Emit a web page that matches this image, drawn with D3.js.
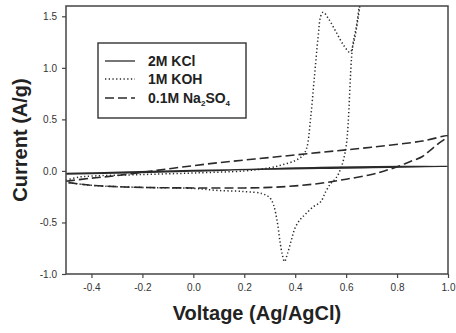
<!DOCTYPE html>
<html><head><meta charset="utf-8">
<script src="https://cdn.jsdelivr.net/npm/d3@7"></script>
<style>
html,body{margin:0;padding:0;background:#fff;}
svg{display:block;font-family:"Liberation Sans",Arial,sans-serif;}
</style></head>
<body><svg id="chart" width="456" height="333"></svg>
<script>
// ---- data ----
const xTicks = [-0.4, -0.2, 0.0, 0.2, 0.4, 0.6, 0.8, 1.0];
const xTickLabels = ["-0.4", "-0.2", "0.0", "0.2", "0.4", "0.6", "0.8", "1.0"];
const yTicks = [-1.0, -0.5, 0.0, 0.5, 1.0, 1.5];
const yTickLabels = ["-1.0", "-0.5", "0.0", "0.5", "1.0", "1.5"];

// 2M KCl (forward then reverse)
const kclV = [-0.5, -0.25, 0.0, 0.5, 1.0, 0.5, 0.0, -0.25, -0.5];
const kclI = [-0.025, -0.01, 0.005, 0.025, 0.045, 0.035, -0.002, -0.018, -0.032];

// 1M KOH
const kohV = [-0.5, -0.45, -0.4, -0.2, 0.0, 0.2, 0.3, 0.35, 0.4, 0.43, 0.445, 0.46, 0.475, 0.49, 0.5, 0.51, 0.53, 0.56, 0.59, 0.615, 0.63, 0.645, 0.66, 0.67,
              0.665, 0.653, 0.64, 0.625, 0.6, 0.58, 0.56, 0.54, 0.52, 0.5, 0.47, 0.44, 0.42, 0.4, 0.385, 0.37, 0.358, 0.35, 0.34, 0.33, 0.315, 0.3, 0.27, 0.2, 0.1, 0.0, -0.2, -0.4, -0.5];
const kohI = [-0.09, -0.06, -0.05, -0.035, -0.02, 0.0, 0.03, 0.06, 0.1, 0.15, 0.22, 0.5, 0.9, 1.3, 1.5, 1.54, 1.48, 1.35, 1.22, 1.15, 1.25, 1.45, 1.7, 1.8,
              1.8, 1.62, 1.4, 1.2, 0.24, 0.03, -0.07, -0.12, -0.2, -0.3, -0.35, -0.42, -0.47, -0.55, -0.67, -0.8, -0.88, -0.82, -0.68, -0.5, -0.33, -0.26, -0.22, -0.2, -0.19, -0.17, -0.16, -0.14, -0.11];

// 0.1M Na2SO4
const naV = [-0.5, -0.4, -0.3, -0.1, 0.1, 0.3, 0.5, 0.7, 0.9, 1.0, 0.96, 0.93, 0.9, 0.85, 0.8, 0.75, 0.7, 0.6, 0.5, 0.4, 0.3, 0.2, 0.0, -0.2, -0.4, -0.5];
const naI = [-0.1, -0.07, -0.045, 0.02, 0.08, 0.13, 0.18, 0.23, 0.29, 0.34, 0.26, 0.2, 0.14, 0.09, 0.04, 0.0, -0.035, -0.08, -0.12, -0.145, -0.16, -0.165, -0.165, -0.16, -0.14, -0.11];

const seriesNames = ["2M KCl", "1M KOH", "0.1M Na2SO4"];

// ---- layout ----
const svg = d3.select("#chart");
const L = 66, R = 448, T = 6, B = 274;
const x = d3.scaleLinear().domain([-0.5, 1.0]).range([L, R]);
const y = d3.scaleLinear().domain([-1.0, 1.6]).range([B, T]);
const ink = "#2a2a2a";

svg.append("defs").append("clipPath").attr("id", "clip")
  .append("rect").attr("x", L).attr("y", T).attr("width", R - L).attr("height", B - T);

const zip = (vs, is) => vs.map((v, i) => [v, is[i]]);
const line = d3.line().x(d => x(d[0])).y(d => y(d[1])).curve(d3.curveCatmullRom.alpha(0.5));

const plot = svg.append("g").attr("clip-path", "url(#clip)");
const styles = [
  {data: zip(kclV, kclI), dash: null, w: 1.3},
  {data: zip(kohV, kohI), dash: "1.3,2.4", w: 1.5},
  {data: zip(naV, naI), dash: "9,4", w: 1.6}
];
styles.forEach(s => {
  plot.append("path").attr("d", line(s.data)).attr("fill", "none")
    .attr("stroke", ink).attr("stroke-width", s.w)
    .attr("stroke-dasharray", s.dash);
});

// frame
svg.append("rect").attr("x", L).attr("y", T).attr("width", R - L).attr("height", B - T)
  .attr("fill", "none").attr("stroke", "#444").attr("stroke-width", 1.5);

// axes
const xAxis = d3.axisBottom(x).tickValues(xTicks).tickSize(4).tickPadding(6)
  .tickFormat((d, i) => xTickLabels[i]);
const gx = svg.append("g").attr("transform", `translate(0,${B})`).call(xAxis);
const yAxis = d3.axisLeft(y).tickValues(yTicks).tickSize(4).tickPadding(5)
  .tickFormat((d, i) => yTickLabels[i]);
const gy = svg.append("g").attr("transform", `translate(${L},0)`).call(yAxis);
[gx, gy].forEach(g => {
  g.select(".domain").remove();
  g.selectAll(".tick line").attr("stroke", "#444").attr("stroke-width", 1.2);
  g.selectAll(".tick text").attr("fill", "#333").style("font-size", "10px")
    .style("font-family", "'Liberation Sans', Arial, sans-serif");
});

// axis titles
svg.append("text").attr("x", (L + R) / 2).attr("y", 320).attr("text-anchor", "middle")
  .style("font-size", "20px").style("font-weight", "bold").attr("fill", "#222")
  .text("Voltage (Ag/AgCl)");
svg.append("text").attr("transform", `translate(27,${(T + B) / 2}) rotate(-90)`)
  .attr("text-anchor", "middle")
  .style("font-size", "20px").style("font-weight", "bold").attr("fill", "#222")
  .text("Current (A/g)");

// legend
const lg = svg.append("g");
lg.append("rect").attr("x", 98).attr("y", 43).attr("width", 148).attr("height", 75)
  .attr("fill", "#fff").attr("stroke", "#333").attr("stroke-width", 1.4);
const rows = [61, 79, 98];
styles.forEach((s, i) => {
  lg.append("line").attr("x1", 105).attr("x2", 135).attr("y1", rows[i]).attr("y2", rows[i])
    .attr("stroke", ink).attr("stroke-width", s.w).attr("stroke-dasharray", s.dash);
  const t = lg.append("text").attr("x", 148).attr("y", rows[i] + 5)
    .style("font-size", "14px").style("font-weight", "bold").attr("fill", "#222");
  if (seriesNames[i] === "0.1M Na2SO4") {
    t.append("tspan").text("0.1M Na");
    t.append("tspan").attr("dy", 3).style("font-size", "8px").text("2");
    t.append("tspan").attr("dy", -3).text("SO");
    t.append("tspan").attr("dy", 3).style("font-size", "8px").text("4");
  } else {
    t.text(seriesNames[i]);
  }
});
</script>
</body></html>
